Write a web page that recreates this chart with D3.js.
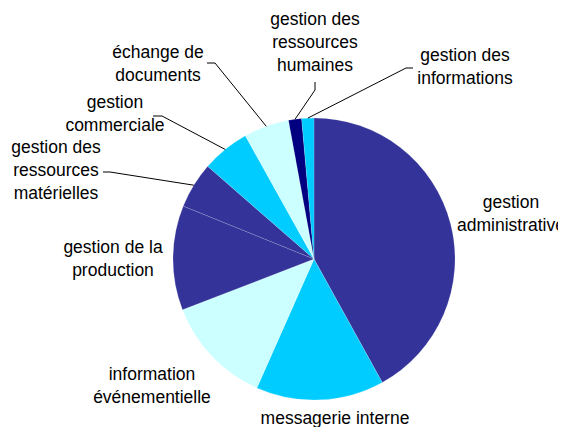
<!DOCTYPE html>
<meta charset="utf-8">
<style>
    body { margin: 0; background: #fff; }
    svg { display: block; }
    .lbl { font-family: "Liberation Sans", Arial, sans-serif; font-size: 17.5px; fill: #000; }
    .leader { fill: none; stroke: #000; stroke-width: 1; }
</style>
<body>
<svg width="570" height="427"></svg>
<script src="https://cdn.jsdelivr.net/npm/d3@7"></script>
<script>
    // slices, clockwise from 12 o'clock
    var categories = [
        "gestion administrative",
        "messagerie interne",
        "information événementielle",
        "gestion de la production",
        "gestion des ressources matérielles",
        "gestion commerciale",
        "échange de documents",
        "gestion des ressources humaines",
        "gestion des informations"
    ];
    var values = [42.0, 14.7, 12.5, 12.0, 5.3, 5.5, 5.2, 1.5, 1.4];
    var colors = ["#333399", "#00ccff", "#ccffff", "#333399", "#333399",
                  "#00ccff", "#ccffff", "#000080", "#00ccff"];

    // label text lines
    var labelLines = [
        ["gestion", "administrative"],
        ["messagerie interne"],
        ["information", "événementielle"],
        ["gestion de la", "production"],
        ["gestion des", "ressources", "matérielles"],
        ["gestion", "commerciale"],
        ["échange de", "documents"],
        ["gestion des", "ressources", "humaines"],
        ["gestion des", "informations"]
    ];

    // layout: label centre x, first baseline y, and leader elbow (null = no leader)
    var labelPos = [
        { x: 511, y: 208, elbow: null },
        { x: 335, y: 424, elbow: null },
        { x: 152, y: 380, elbow: null },
        { x: 113, y: 253, elbow: null },
        { x: 56,  y: 153, elbow: [[103, 172], [110, 172]] },
        { x: 115, y: 108, elbow: [[153, 116], [162, 116]] },
        { x: 158, y: 58,  elbow: [[207, 63], [215, 63]] },
        { x: 315, y: 25,  elbow: [[315, 82], [315, 90]] },
        { x: 465, y: 61,  elbow: [[413, 68], [406, 68]] }
    ];

    var svg = d3.select("svg"),
        cx = 314, cy = 259, radius = 141, lineH = 23;

    svg.append("defs").append("clipPath")
        .attr("id", "clip")
        .append("rect")
        .attr("width", 558)
        .attr("height", 427);

    var data = categories.map(function (c, i) { return { name: c, value: values[i], i: i }; });

    var pie = d3.pie()
        .sort(null)
        .value(function (d) { return d.value; });

    var arc = d3.arc()
        .innerRadius(0)
        .outerRadius(radius);

    var arcs = pie(data);

    var g = svg.append("g")
        .attr("transform", "translate(" + cx + "," + cy + ")");

    g.selectAll("path.slice")
        .data(arcs)
        .enter().append("path")
        .attr("class", "slice")
        .attr("d", arc)
        .attr("fill", function (d) { return colors[d.data.i]; })
        .attr("stroke", "#ffffff")
        .attr("stroke-opacity", 0.25)
        .attr("stroke-width", 0.6);

    // leader lines
    arcs.forEach(function (d) {
        var p = labelPos[d.data.i];
        if (!p.elbow) return;
        var a = (d.startAngle + d.endAngle) / 2;
        var edge = [cx + Math.sin(a) * radius, cy - Math.cos(a) * radius];
        svg.append("path")
            .attr("class", "leader")
            .attr("d", d3.line()([p.elbow[0], p.elbow[1], edge]));
    });

    // labels
    var labels = svg.append("g").attr("clip-path", "url(#clip)");
    labelLines.forEach(function (lines, i) {
        var p = labelPos[i];
        var t = labels.append("text")
            .attr("class", "lbl")
            .attr("text-anchor", "middle");
        lines.forEach(function (s, k) {
            t.append("tspan")
                .attr("x", p.x)
                .attr("y", p.y + k * lineH)
                .text(s);
        });
    });
</script>
</body>
